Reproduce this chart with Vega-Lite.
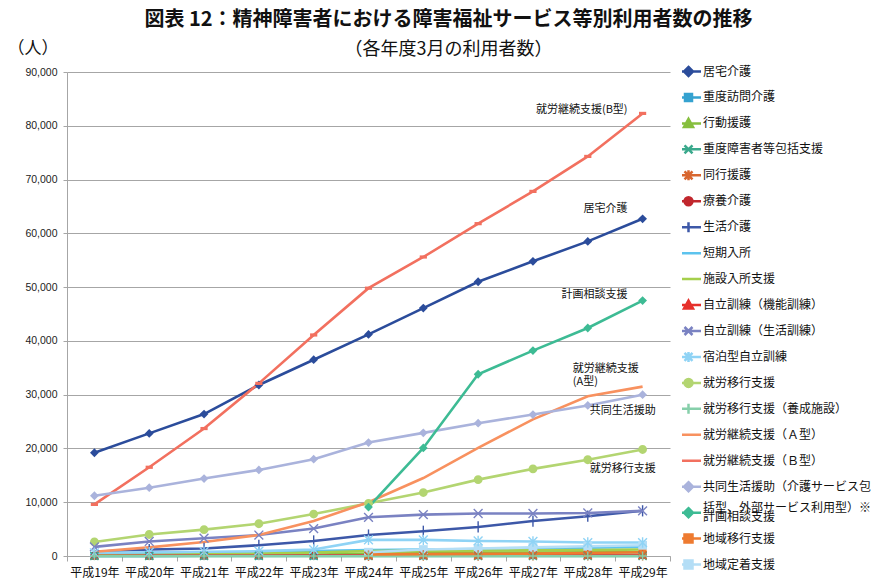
{
  "$schema": "https://vega.github.io/schema/vega-lite/v6.json",
  "autosize": {"type": "none"},
  "width": 603,
  "height": 484,
  "padding": {"left": 67, "top": 72, "right": 211, "bottom": 28},
  "background": "white",
  "config": {"view": {"stroke": null}, "font": "Noto Sans CJK JP"},
  "title": {
    "text": "図表 12：精神障害者における障害福祉サービス等別利用者数の推移",
    "subtitle": "（各年度3月の利用者数）",
    "anchor": "middle",
    "frame": "group",
    "dx": 80,
    "font": "Noto Sans CJK JP",
    "fontSize": 20,
    "fontWeight": "bold",
    "color": "#111111",
    "subtitleFont": "Noto Sans CJK JP",
    "subtitleFontSize": 18,
    "subtitleColor": "#111111",
    "subtitlePadding": 11,
    "offset": -20
  },
  "data": {"values": [
    {"series":"居宅介護","year":"平成19年","value":19200},{"series":"居宅介護","year":"平成20年","value":22800},{"series":"居宅介護","year":"平成21年","value":26400},{"series":"居宅介護","year":"平成22年","value":31800},{"series":"居宅介護","year":"平成23年","value":36500},{"series":"居宅介護","year":"平成24年","value":41200},{"series":"居宅介護","year":"平成25年","value":46100},{"series":"居宅介護","year":"平成26年","value":51000},{"series":"居宅介護","year":"平成27年","value":54800},{"series":"居宅介護","year":"平成28年","value":58500},{"series":"居宅介護","year":"平成29年","value":62700},
    {"series":"重度訪問介護","year":"平成19年","value":20},{"series":"重度訪問介護","year":"平成20年","value":30},{"series":"重度訪問介護","year":"平成21年","value":40},{"series":"重度訪問介護","year":"平成22年","value":50},{"series":"重度訪問介護","year":"平成23年","value":60},{"series":"重度訪問介護","year":"平成24年","value":80},{"series":"重度訪問介護","year":"平成25年","value":100},{"series":"重度訪問介護","year":"平成26年","value":120},{"series":"重度訪問介護","year":"平成27年","value":140},{"series":"重度訪問介護","year":"平成28年","value":160},{"series":"重度訪問介護","year":"平成29年","value":180},
    {"series":"行動援護","year":"平成19年","value":50},{"series":"行動援護","year":"平成20年","value":70},{"series":"行動援護","year":"平成21年","value":100},{"series":"行動援護","year":"平成22年","value":150},{"series":"行動援護","year":"平成23年","value":250},{"series":"行動援護","year":"平成24年","value":400},{"series":"行動援護","year":"平成25年","value":500},{"series":"行動援護","year":"平成26年","value":600},{"series":"行動援護","year":"平成27年","value":650},{"series":"行動援護","year":"平成28年","value":700},{"series":"行動援護","year":"平成29年","value":750},
    {"series":"重度障害者等包括支援","year":"平成19年","value":5},{"series":"重度障害者等包括支援","year":"平成20年","value":5},{"series":"重度障害者等包括支援","year":"平成21年","value":5},{"series":"重度障害者等包括支援","year":"平成22年","value":5},{"series":"重度障害者等包括支援","year":"平成23年","value":5},{"series":"重度障害者等包括支援","year":"平成24年","value":5},{"series":"重度障害者等包括支援","year":"平成25年","value":5},{"series":"重度障害者等包括支援","year":"平成26年","value":5},{"series":"重度障害者等包括支援","year":"平成27年","value":5},{"series":"重度障害者等包括支援","year":"平成28年","value":5},{"series":"重度障害者等包括支援","year":"平成29年","value":5},
    {"series":"同行援護","year":"平成24年","value":50},{"series":"同行援護","year":"平成25年","value":80},{"series":"同行援護","year":"平成26年","value":100},{"series":"同行援護","year":"平成27年","value":120},{"series":"同行援護","year":"平成28年","value":130},{"series":"同行援護","year":"平成29年","value":150},
    {"series":"療養介護","year":"平成19年","value":50},{"series":"療養介護","year":"平成20年","value":60},{"series":"療養介護","year":"平成21年","value":70},{"series":"療養介護","year":"平成22年","value":80},{"series":"療養介護","year":"平成23年","value":90},{"series":"療養介護","year":"平成24年","value":150},{"series":"療養介護","year":"平成25年","value":160},{"series":"療養介護","year":"平成26年","value":170},{"series":"療養介護","year":"平成27年","value":170},{"series":"療養介護","year":"平成28年","value":180},{"series":"療養介護","year":"平成29年","value":180},
    {"series":"生活介護","year":"平成19年","value":800},{"series":"生活介護","year":"平成20年","value":1200},{"series":"生活介護","year":"平成21年","value":1400},{"series":"生活介護","year":"平成22年","value":2000},{"series":"生活介護","year":"平成23年","value":2800},{"series":"生活介護","year":"平成24年","value":3900},{"series":"生活介護","year":"平成25年","value":4600},{"series":"生活介護","year":"平成26年","value":5400},{"series":"生活介護","year":"平成27年","value":6500},{"series":"生活介護","year":"平成28年","value":7400},{"series":"生活介護","year":"平成29年","value":8400},
    {"series":"短期入所","year":"平成19年","value":400},{"series":"短期入所","year":"平成20年","value":500},{"series":"短期入所","year":"平成21年","value":600},{"series":"短期入所","year":"平成22年","value":700},{"series":"短期入所","year":"平成23年","value":900},{"series":"短期入所","year":"平成24年","value":1100},{"series":"短期入所","year":"平成25年","value":1200},{"series":"短期入所","year":"平成26年","value":1300},{"series":"短期入所","year":"平成27年","value":1450},{"series":"短期入所","year":"平成28年","value":1550},{"series":"短期入所","year":"平成29年","value":1700},
    {"series":"施設入所支援","year":"平成19年","value":150},{"series":"施設入所支援","year":"平成20年","value":200},{"series":"施設入所支援","year":"平成21年","value":300},{"series":"施設入所支援","year":"平成22年","value":450},{"series":"施設入所支援","year":"平成23年","value":650},{"series":"施設入所支援","year":"平成24年","value":900},{"series":"施設入所支援","year":"平成25年","value":950},{"series":"施設入所支援","year":"平成26年","value":1000},{"series":"施設入所支援","year":"平成27年","value":1050},{"series":"施設入所支援","year":"平成28年","value":1100},{"series":"施設入所支援","year":"平成29年","value":1200},
    {"series":"自立訓練（機能訓練）","year":"平成19年","value":60},{"series":"自立訓練（機能訓練）","year":"平成20年","value":70},{"series":"自立訓練（機能訓練）","year":"平成21年","value":80},{"series":"自立訓練（機能訓練）","year":"平成22年","value":90},{"series":"自立訓練（機能訓練）","year":"平成23年","value":100},{"series":"自立訓練（機能訓練）","year":"平成24年","value":110},{"series":"自立訓練（機能訓練）","year":"平成25年","value":110},{"series":"自立訓練（機能訓練）","year":"平成26年","value":120},{"series":"自立訓練（機能訓練）","year":"平成27年","value":120},{"series":"自立訓練（機能訓練）","year":"平成28年","value":120},{"series":"自立訓練（機能訓練）","year":"平成29年","value":130},
    {"series":"自立訓練（生活訓練）","year":"平成19年","value":1700},{"series":"自立訓練（生活訓練）","year":"平成20年","value":2700},{"series":"自立訓練（生活訓練）","year":"平成21年","value":3300},{"series":"自立訓練（生活訓練）","year":"平成22年","value":3900},{"series":"自立訓練（生活訓練）","year":"平成23年","value":5100},{"series":"自立訓練（生活訓練）","year":"平成24年","value":7200},{"series":"自立訓練（生活訓練）","year":"平成25年","value":7700},{"series":"自立訓練（生活訓練）","year":"平成26年","value":7900},{"series":"自立訓練（生活訓練）","year":"平成27年","value":7900},{"series":"自立訓練（生活訓練）","year":"平成28年","value":8000},{"series":"自立訓練（生活訓練）","year":"平成29年","value":8400},
    {"series":"宿泊型自立訓練","year":"平成19年","value":600},{"series":"宿泊型自立訓練","year":"平成20年","value":700},{"series":"宿泊型自立訓練","year":"平成21年","value":800},{"series":"宿泊型自立訓練","year":"平成22年","value":900},{"series":"宿泊型自立訓練","year":"平成23年","value":1200},{"series":"宿泊型自立訓練","year":"平成24年","value":3000},{"series":"宿泊型自立訓練","year":"平成25年","value":3000},{"series":"宿泊型自立訓練","year":"平成26年","value":2800},{"series":"宿泊型自立訓練","year":"平成27年","value":2700},{"series":"宿泊型自立訓練","year":"平成28年","value":2500},{"series":"宿泊型自立訓練","year":"平成29年","value":2500},
    {"series":"就労移行支援","year":"平成19年","value":2600},{"series":"就労移行支援","year":"平成20年","value":4000},{"series":"就労移行支援","year":"平成21年","value":4900},{"series":"就労移行支援","year":"平成22年","value":6000},{"series":"就労移行支援","year":"平成23年","value":7800},{"series":"就労移行支援","year":"平成24年","value":9800},{"series":"就労移行支援","year":"平成25年","value":11800},{"series":"就労移行支援","year":"平成26年","value":14200},{"series":"就労移行支援","year":"平成27年","value":16200},{"series":"就労移行支援","year":"平成28年","value":17900},{"series":"就労移行支援","year":"平成29年","value":19800},
    {"series":"就労移行支援（養成施設）","year":"平成19年","value":5},{"series":"就労移行支援（養成施設）","year":"平成20年","value":5},{"series":"就労移行支援（養成施設）","year":"平成21年","value":5},{"series":"就労移行支援（養成施設）","year":"平成22年","value":5},{"series":"就労移行支援（養成施設）","year":"平成23年","value":5},{"series":"就労移行支援（養成施設）","year":"平成24年","value":5},{"series":"就労移行支援（養成施設）","year":"平成25年","value":5},{"series":"就労移行支援（養成施設）","year":"平成26年","value":5},{"series":"就労移行支援（養成施設）","year":"平成27年","value":5},{"series":"就労移行支援（養成施設）","year":"平成28年","value":5},{"series":"就労移行支援（養成施設）","year":"平成29年","value":5},
    {"series":"就労継続支援（Ａ型）","year":"平成19年","value":800},{"series":"就労継続支援（Ａ型）","year":"平成20年","value":1600},{"series":"就労継続支援（Ａ型）","year":"平成21年","value":2600},{"series":"就労継続支援（Ａ型）","year":"平成22年","value":3900},{"series":"就労継続支援（Ａ型）","year":"平成23年","value":6500},{"series":"就労継続支援（Ａ型）","year":"平成24年","value":10000},{"series":"就労継続支援（Ａ型）","year":"平成25年","value":14500},{"series":"就労継続支援（Ａ型）","year":"平成26年","value":20100},{"series":"就労継続支援（Ａ型）","year":"平成27年","value":25400},{"series":"就労継続支援（Ａ型）","year":"平成28年","value":29700},{"series":"就労継続支援（Ａ型）","year":"平成29年","value":31500},
    {"series":"就労継続支援（Ｂ型）","year":"平成19年","value":9600},{"series":"就労継続支援（Ｂ型）","year":"平成20年","value":16500},{"series":"就労継続支援（Ｂ型）","year":"平成21年","value":23700},{"series":"就労継続支援（Ｂ型）","year":"平成22年","value":32100},{"series":"就労継続支援（Ｂ型）","year":"平成23年","value":41100},{"series":"就労継続支援（Ｂ型）","year":"平成24年","value":49800},{"series":"就労継続支援（Ｂ型）","year":"平成25年","value":55600},{"series":"就労継続支援（Ｂ型）","year":"平成26年","value":61800},{"series":"就労継続支援（Ｂ型）","year":"平成27年","value":67800},{"series":"就労継続支援（Ｂ型）","year":"平成28年","value":74300},{"series":"就労継続支援（Ｂ型）","year":"平成29年","value":82300},
    {"series":"共同生活援助（介護サービス包括型、外部サービス利用型）※","year":"平成19年","value":11200},{"series":"共同生活援助（介護サービス包括型、外部サービス利用型）※","year":"平成20年","value":12700},{"series":"共同生活援助（介護サービス包括型、外部サービス利用型）※","year":"平成21年","value":14400},{"series":"共同生活援助（介護サービス包括型、外部サービス利用型）※","year":"平成22年","value":16000},{"series":"共同生活援助（介護サービス包括型、外部サービス利用型）※","year":"平成23年","value":18000},{"series":"共同生活援助（介護サービス包括型、外部サービス利用型）※","year":"平成24年","value":21100},{"series":"共同生活援助（介護サービス包括型、外部サービス利用型）※","year":"平成25年","value":22900},{"series":"共同生活援助（介護サービス包括型、外部サービス利用型）※","year":"平成26年","value":24700},{"series":"共同生活援助（介護サービス包括型、外部サービス利用型）※","year":"平成27年","value":26300},{"series":"共同生活援助（介護サービス包括型、外部サービス利用型）※","year":"平成28年","value":28000},{"series":"共同生活援助（介護サービス包括型、外部サービス利用型）※","year":"平成29年","value":30000},
    {"series":"計画相談支援","year":"平成24年","value":9100},{"series":"計画相談支援","year":"平成25年","value":20100},{"series":"計画相談支援","year":"平成26年","value":33800},{"series":"計画相談支援","year":"平成27年","value":38200},{"series":"計画相談支援","year":"平成28年","value":42400},{"series":"計画相談支援","year":"平成29年","value":47500},
    {"series":"地域移行支援","year":"平成24年","value":300},{"series":"地域移行支援","year":"平成25年","value":350},{"series":"地域移行支援","year":"平成26年","value":400},{"series":"地域移行支援","year":"平成27年","value":450},{"series":"地域移行支援","year":"平成28年","value":550},{"series":"地域移行支援","year":"平成29年","value":700},
    {"series":"地域定着支援","year":"平成24年","value":700},{"series":"地域定着支援","year":"平成25年","value":1200},{"series":"地域定着支援","year":"平成26年","value":1400},{"series":"地域定着支援","year":"平成27年","value":1600},{"series":"地域定着支援","year":"平成28年","value":1800},{"series":"地域定着支援","year":"平成29年","value":2000}
  ]},
  "encoding": {
    "x": {
      "field": "year", "type": "ordinal", "bandPosition": 0.5,
      "scale": {"type": "band", "paddingInner": 0, "paddingOuter": 0},
      "axis": {"title": null, "labelAngle": 0, "tickBand": "extent", "labelFont": "Noto Sans CJK JP", "labelFontSize": 12, "labelColor": "#111111", "labelPadding": 6, "domainColor": "#A6A6A6", "tickColor": "#A6A6A6", "tickSize": 5, "grid": false}
    },
    "y": {
      "field": "value", "type": "quantitative",
      "scale": {"domain": [0, 90000], "nice": false},
      "axis": {"values": [0,10000,20000,30000,40000,50000,60000,70000,80000,90000], "format": ",.0f", "labelFont": "Liberation Sans", "labelFontSize": 10.5, "labelColor": "#222222", "labelPadding": 6, "tickSize": 4, "tickColor": "#A6A6A6", "domainColor": "#A6A6A6", "gridColor": "#A6A6A6", "gridWidth": 1,
        "title": "（人）", "titleAngle": 0, "titleAlign": "left", "titleBaseline": "middle", "titleX": -60, "titleY": -24, "titleFont": "Noto Sans CJK JP", "titleFontSize": 17, "titleFontWeight": "normal", "titleColor": "#111111"}
    }
  },
  "layer": [
    {
      "mark": {"type": "line", "strokeWidth": 2.6},
      "encoding": {
        "color": {
          "field": "series", "type": "nominal",
          "scale": {
            "domain": ["居宅介護","重度訪問介護","行動援護","重度障害者等包括支援","同行援護","療養介護","生活介護","短期入所","施設入所支援","自立訓練（機能訓練）","自立訓練（生活訓練）","宿泊型自立訓練","就労移行支援","就労移行支援（養成施設）","就労継続支援（Ａ型）","就労継続支援（Ｂ型）","共同生活援助（介護サービス包括型、外部サービス利用型）※","計画相談支援","地域移行支援","地域定着支援"],
            "range": ["#2B4C9B","#35A2D0","#86BF3E","#3AA98C","#D8662F","#C1272D","#3D58A8","#5CC3EE","#A5CF4C","#E6302B","#7A82C2","#8FD3F5","#B3D571","#86CFAA","#F8915F","#F2705F","#AAB3DC","#3DBB94","#EE7B30","#B4DEF6"]
          },
          "legend": {
            "orient": "none", "legendX": 615, "legendY": -13, "title": null,
            "labelFont": "Noto Sans CJK JP", "labelFontSize": 12, "labelColor": "#111111", "labelLimit": 400,
            "symbolSize": 100, "symbolStrokeWidth": 2.5, "clipHeight": 25, "rowPadding": 0.95, "labelOffset": 8,
            "labelExpr": "datum.value == '共同生活援助（介護サービス包括型、外部サービス利用型）※' ? '共同生活援助（介護サービス包' : (datum.value == '計画相談支援' ? ['括型、外部サービス利用型）※', '計画相談支援'] : datum.label)",
            "encode": {
              "symbols": {"update": {
                "shape": {"signal": "({'居宅介護':'M-2.5,0H2.5M0,-0.9L0.9,0L0,0.9L-0.9,0Z','重度訪問介護':'M-2.5,0H2.5M-0.7,-0.7H0.7V0.7H-0.7Z','行動援護':'M-2.5,0H2.5M0,-0.9L0.9,0.7H-0.9Z','重度障害者等包括支援':'M-2.5,0H2.5M-0.8,-0.8L0.8,0.8M-0.8,0.8L0.8,-0.8','同行援護':'M-2.5,0H2.5M-0.8,-0.8L0.8,0.8M-0.8,0.8L0.8,-0.8M0,-1V1','療養介護':'M-2.5,0H2.5M-0.8,0A0.8,0.8 0 1,0 0.8,0A0.8,0.8 0 1,0 -0.8,0Z','生活介護':'M-2.5,0H2.5M0,-1V1','短期入所':'M-2.5,0H2.5','施設入所支援':'M-2.5,0H2.5','自立訓練（機能訓練）':'M-2.5,0H2.5M0,-0.9L0.9,0.7H-0.9Z','自立訓練（生活訓練）':'M-2.5,0H2.5M-0.8,-0.8L0.8,0.8M-0.8,0.8L0.8,-0.8','宿泊型自立訓練':'M-2.5,0H2.5M-0.8,-0.8L0.8,0.8M-0.8,0.8L0.8,-0.8M0,-1V1','就労移行支援':'M-2.5,0H2.5M-0.8,0A0.8,0.8 0 1,0 0.8,0A0.8,0.8 0 1,0 -0.8,0Z','就労移行支援（養成施設）':'M-2.5,0H2.5M0,-1V1','就労継続支援（Ａ型）':'M-2.5,0H2.5','就労継続支援（Ｂ型）':'M-2.5,0H2.5','共同生活援助（介護サービス包括型、外部サービス利用型）※':'M-2.5,0H2.5M0,-0.9L0.9,0L0,0.9L-0.9,0Z','計画相談支援':'M-2.5,0H2.5M0,-0.9L0.9,0L0,0.9L-0.9,0Z','地域移行支援':'M-2.5,0H2.5M-0.8,-0.8H0.8V0.8H-0.8Z','地域定着支援':'M-2.5,0H2.5M-0.8,-0.8H0.8V0.8H-0.8Z'})[datum.value]"},
                "fill": {"scale": "color", "field": "value"},
                "stroke": {"scale": "color", "field": "value"},
                "strokeWidth": {"value": 2.5},
                "size": {"value": 100},
                "opacity": {"value": 1}
              }},
              "labels": {"update": {
                "dy": {"signal": "datum.value == '計画相談支援' ? -4.5 : 0"},
                "lineHeight": {"value": 9}
              }}
            }
          }
        }
      }
    },
    {
      "transform": [{"filter": {"field": "series", "oneOf": ["居宅介護","重度訪問介護","行動援護","療養介護","自立訓練（機能訓練）","就労移行支援","就労継続支援（Ｂ型）","共同生活援助（介護サービス包括型、外部サービス利用型）※","計画相談支援","地域移行支援","地域定着支援"]}}],
      "mark": {"type": "point", "filled": true, "opacity": 1, "size": 64},
      "encoding": {
        "color": {"field": "series", "type": "nominal", "legend": null},
        "shape": {"field": "series", "type": "nominal", "legend": null,
          "scale": {
            "domain": ["居宅介護","重度訪問介護","行動援護","重度障害者等包括支援","同行援護","療養介護","生活介護","自立訓練（機能訓練）","自立訓練（生活訓練）","宿泊型自立訓練","就労移行支援","就労移行支援（養成施設）","就労継続支援（Ｂ型）","共同生活援助（介護サービス包括型、外部サービス利用型）※","計画相談支援","地域移行支援","地域定着支援"],
            "range": ["M0,-1.1L1.1,0L0,1.1L-1.1,0Z","M-1,-1H1V1H-1Z","M0,-1.1L1.1,0.9H-1.1Z","M-1,-1L1,1M-1,1L1,-1","M-1,-1L1,1M-1,1L1,-1M0,-1.3V1.3","M-1,0A1,1 0 1,0 1,0A1,1 0 1,0 -1,0Z","M0,-1.4V1.4","M0,-1.1L1.1,0.9H-1.1Z","M-1.1,-1.1L1.1,1.1M-1.1,1.1L1.1,-1.1","M-1.1,-1.1L1.1,1.1M-1.1,1.1L1.1,-1.1M0,-1.3V1.3","M-1.1,0A1.1,1.1 0 1,0 1.1,0A1.1,1.1 0 1,0 -1.1,0Z","M-1.1,0H1.1M0,-1.1V1.1","M-0.9,-0.4H0.9V0.4H-0.9Z","M0,-1.1L1.1,0L0,1.1L-1.1,0Z","M0,-1.1L1.1,0L0,1.1L-1.1,0Z","M-1,-1H1V1H-1Z","M-1.1,-1.1H1.1V1.1H-1.1Z"]
          }
        }
      }
    },
    {
      "transform": [{"filter": {"field": "series", "oneOf": ["重度障害者等包括支援","同行援護","生活介護","自立訓練（生活訓練）","宿泊型自立訓練","就労移行支援（養成施設）"]}}],
      "mark": {"type": "point", "filled": false, "opacity": 1, "size": 64, "strokeWidth": 1.4},
      "encoding": {
        "color": {"field": "series", "type": "nominal", "legend": null},
        "shape": {"field": "series", "type": "nominal", "legend": null}
      }
    },
    {
      "data": {"values": [
        {"year": "平成29年", "value": 82900, "label": "就労継続支援(B型)"},
        {"year": "平成29年", "value": 64600, "label": "居宅介護"},
        {"year": "平成29年", "value": 48600, "label": "計画相談支援"}
      ]},
      "mark": {"type": "text", "align": "right", "baseline": "middle", "dx": -15, "fontSize": 11, "font": "Noto Sans CJK JP", "color": "#111111"},
      "encoding": {"text": {"field": "label"}}
    },
    {
      "data": {"values": [
        {"year": "平成28年", "value": 34700, "label": "就労継続支援"},
        {"year": "平成28年", "value": 32300, "label": "(A型)"}
      ]},
      "mark": {"type": "text", "align": "left", "baseline": "middle", "dx": -15, "fontSize": 11, "font": "Noto Sans CJK JP", "color": "#111111"},
      "encoding": {"text": {"field": "label"}}
    },
    {
      "data": {"values": [
        {"year": "平成28年", "value": 26900, "label": "共同生活援助"},
        {"year": "平成28年", "value": 16100, "label": "就労移行支援"}
      ]},
      "mark": {"type": "text", "align": "left", "baseline": "middle", "dx": 2, "fontSize": 11, "font": "Noto Sans CJK JP", "color": "#111111"},
      "encoding": {"text": {"field": "label"}}
    }
  ]
}
